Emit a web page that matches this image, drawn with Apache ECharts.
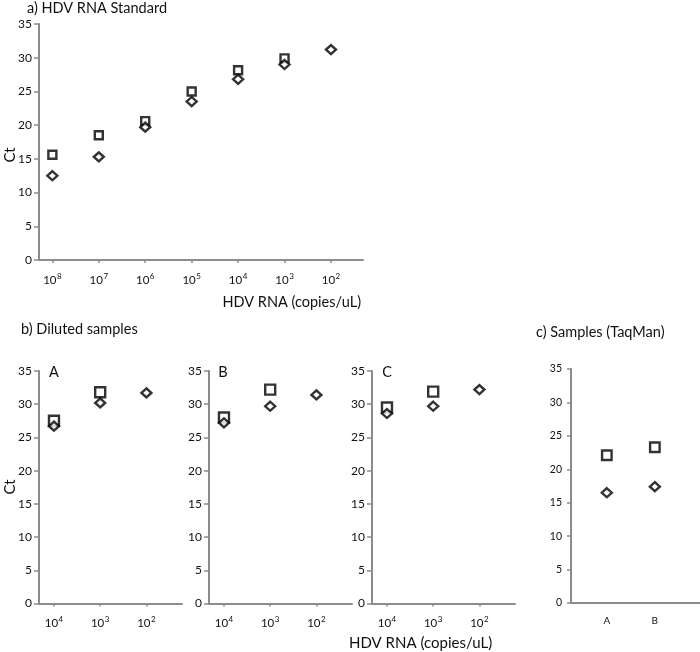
<!DOCTYPE html>
<html>
<head>
<meta charset="utf-8">
<script src="https://cdn.jsdelivr.net/npm/echarts@6/dist/echarts.min.js"></script>
<style>html,body{margin:0;padding:0;background:#fff}#c{width:700px;height:652px}</style>
</head>
<body>
<div id="c"></div>
<script>
// ---- data ----
const stdExponents = ['8','7','6','5','4','3','2'];
const stdSquare = [15.6, 18.5, 20.6, 25.0, 28.15, 29.9, null];
const stdDiamond = [12.5, 15.3, 19.7, 23.5, 26.8, 29.0, 31.2];

const dilExponents = ['4','3','2'];
const aSquare = [27.5, 31.8, null];
const aDiamond = [26.7, 30.2, 31.7];
const bSquare = [28.0, 32.2, null];
const bDiamond = [27.2, 29.7, 31.4];
const cSquare = [29.5, 31.9, null];
const cDiamond = [28.6, 29.7, 32.2];

const taqCategories = ['A', 'B'];
const taqSquare = [22.1, 23.3];
const taqDiamond = [16.5, 17.4];

// ---- styling ----
const FONT = 'Lato';
const AXIS = '#8c8c8c';
const TXT = '#111';

function pts(arr) {
  const out = [];
  arr.forEach((v, i) => { if (v !== null) out.push([i, v]); });
  return out;
}
function idx(n) { return Array.from({length: n}, (_, i) => i); }

function yAxisDef(gi, small) {
  return {
    gridIndex: gi, type: 'value', min: 0, max: 35, interval: 5,
    axisLine: {show: true, onZero: false, lineStyle: {color: AXIS, width: 2}},
    axisTick: {show: true, length: small ? 4 : 5, lineStyle: {color: AXIS, width: 1.5}},
    axisLabel: {color: TXT, fontFamily: FONT, fontSize: small ? 10.5 : 12, margin: small ? 9 : 7},
    splitLine: {show: false}
  };
}
function xAxisPow(gi, min, max, exps, margin) {
  return {
    gridIndex: gi, type: 'value', min: min, max: max,
    axisLine: {show: true, onZero: false, lineStyle: {color: AXIS, width: 2}},
    axisTick: {show: true, length: 3, customValues: idx(exps.length), lineStyle: {color: AXIS, width: 1.5}},
    axisLabel: {
      customValues: idx(exps.length), margin: margin,
      formatter: v => '{b|10}{s|' + exps[Math.round(v)] + '}',
      rich: {
        b: {fontFamily: FONT, fontSize: 11.5, color: TXT, lineHeight: 14, verticalAlign: 'bottom'},
        s: {fontFamily: FONT, fontSize: 8, color: TXT, lineHeight: 14, verticalAlign: 'top', padding: [0, 0, 0, 0.5]}
      }
    },
    splitLine: {show: false}
  };
}

function sq(xi, yi, data, size) {
  return {type: 'scatter', xAxisIndex: xi, yAxisIndex: yi, data: pts(data), symbol: 'rect',
    symbolSize: size, z: 2, itemStyle: {color: '#fff', borderColor: '#000', borderWidth: 2.4}};
}
function dm(xi, yi, data, size) {
  return {type: 'scatter', xAxisIndex: xi, yAxisIndex: yi, data: pts(data), symbol: 'diamond',
    symbolSize: size, z: 3, itemStyle: {color: '#fff', borderColor: '#000', borderWidth: 2.4}};
}

function txt(text, x, y, size, align, rot) {
  return {type: 'text', x: x, y: y, rotation: rot || 0,
    style: {text: text, fontFamily: FONT, fontSize: size, fill: TXT, align: align || 'left', verticalAlign: 'middle'}};
}

const chart = echarts.init(document.getElementById('c'));
chart.setOption({
  animation: false,
  backgroundColor: '#fff',
  grid: [
    {left: 39, top: 24, width: 324, height: 236},
    {left: 39, top: 371, width: 143, height: 232.5},
    {left: 209, top: 371, width: 143, height: 232.5},
    {left: 372, top: 371, width: 143, height: 232.5},
    {left: 571, top: 369, width: 129, height: 234}
  ],
  xAxis: [
    xAxisPow(0, -0.288, 6.69, stdExponents, 12),
    xAxisPow(1, -0.324, 2.77, dilExponents, 12),
    xAxisPow(2, -0.324, 2.77, dilExponents, 12),
    xAxisPow(3, -0.324, 2.77, dilExponents, 12),
    {
      gridIndex: 4, type: 'value', min: -0.746, max: 1.94,
      axisLine: {show: true, onZero: false, lineStyle: {color: AXIS, width: 2}},
      axisTick: {show: false},
      axisLabel: {customValues: idx(taqCategories.length), margin: 13,
        formatter: v => taqCategories[Math.round(v)], fontFamily: FONT, fontSize: 10, color: TXT},
      splitLine: {show: false}
    }
  ],
  yAxis: [yAxisDef(0), yAxisDef(1), yAxisDef(2), yAxisDef(3), yAxisDef(4, true)],
  series: [
    sq(0, 0, stdSquare, 8), dm(0, 0, stdDiamond, [10, 9]),
    sq(1, 1, aSquare, 10), dm(1, 1, aDiamond, [10, 9]),
    sq(2, 2, bSquare, 10), dm(2, 2, bDiamond, [10, 9]),
    sq(3, 3, cSquare, 10), dm(3, 3, cDiamond, [10, 9]),
    sq(4, 4, taqSquare, 9.5), dm(4, 4, taqDiamond, [10, 9])
  ],
  graphic: [
    txt('a) HDV RNA Standard', 27, 8, 14.5),
    txt('Ct', 10, 155, 15, 'center', Math.PI / 2),
    txt('HDV RNA (copies/uL)', 361, 302, 14.5, 'right'),
    txt('b) Diluted samples', 21, 329, 14.5),
    txt('c) Samples (TaqMan)', 536, 332, 14.5),
    txt('A', 54, 372, 14.5, 'center'),
    txt('B', 223, 372, 14.5, 'center'),
    txt('C', 387, 372, 14.5, 'center'),
    txt('Ct', 10, 487, 15, 'center', Math.PI / 2),
    txt('HDV RNA (copies/uL)', 349, 643, 15)
  ]
});
</script>
</body>
</html>
